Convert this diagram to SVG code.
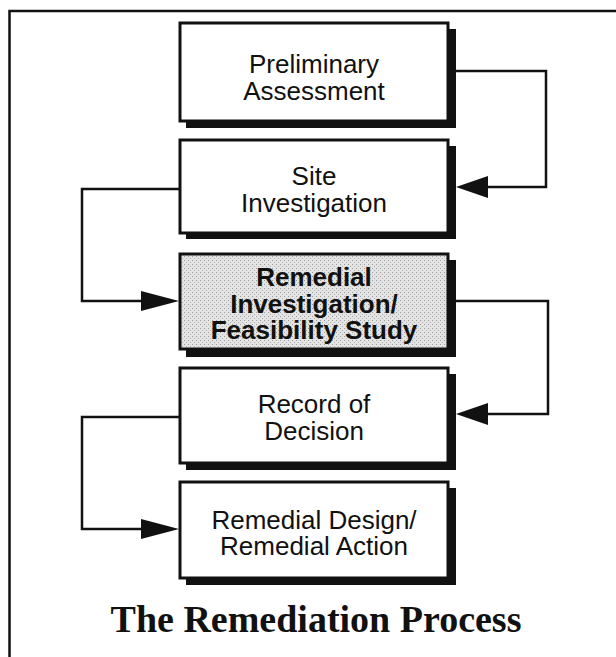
<svg xmlns="http://www.w3.org/2000/svg" width="616" height="657" viewBox="0 0 616 657">
<style>
.box{fill:#fff;stroke:#111;stroke-width:3}
.shadow{fill:#111}
.lbl{font-family:"Liberation Sans",Arial,sans-serif;font-size:26px;fill:#111;text-anchor:middle}
.bold{font-weight:bold}
.conn{fill:none;stroke:#111;stroke-width:2.5}
.head{fill:#111}
.frame{fill:none;stroke:#111;stroke-width:2.5}
.title{font-family:"Liberation Serif","Times New Roman",serif;font-weight:bold;font-size:38px;fill:#111;text-anchor:middle}
</style>
<defs>
<pattern id="stip" width="4" height="4" patternUnits="userSpaceOnUse">
<rect width="4" height="4" fill="#e4e4e4"/>
<rect x="0" y="0" width="1" height="1" fill="#9a9a9a"/>
<rect x="2" y="2" width="1" height="1" fill="#b0b0b0"/>
</pattern>
</defs>
<path class="frame" d="M9.5,657 V11 H616"/>
<g id="n1">
<rect class="shadow" x="186" y="29" width="270" height="99"/>
<rect class="box" x="180" y="23" width="268" height="98"/>
<text class="lbl" x="314" y="73">Preliminary</text>
<text class="lbl" x="314" y="100">Assessment</text>
</g>
<g id="n2">
<rect class="shadow" x="186" y="146" width="270" height="93"/>
<rect class="box" x="180" y="140" width="268" height="93"/>
<text class="lbl" x="314" y="185">Site</text>
<text class="lbl" x="314" y="212">Investigation</text>
</g>
<g id="n3">
<rect class="shadow" x="186" y="260" width="270" height="97"/>
<rect class="box" x="180" y="254" width="268" height="95" style="fill:url(#stip)"/>
<text class="lbl bold" x="314" y="286">Remedial</text>
<text class="lbl bold" x="314" y="313">Investigation/</text>
<text class="lbl bold" x="314" y="339">Feasibility Study</text>
</g>
<g id="n4">
<rect class="shadow" x="186" y="374" width="270" height="96"/>
<rect class="box" x="180" y="368" width="268" height="95"/>
<text class="lbl" x="314" y="413">Record of</text>
<text class="lbl" x="314" y="440">Decision</text>
</g>
<g id="n5">
<rect class="shadow" x="186" y="488" width="270" height="97"/>
<rect class="box" x="180" y="482" width="268" height="96"/>
<text class="lbl" x="314" y="529">Remedial Design/</text>
<text class="lbl" x="314" y="555">Remedial Action</text>
</g>
<g id="connectors">
<path class="conn" d="M456,71 H546 V187 H480"/>
<polygon class="head" points="456,187 488,176 488,198"/>
<path class="conn" d="M180,189 H82 V301 H150"/>
<polygon class="head" points="179,301 141,291 141,311"/>
<path class="conn" d="M456,301 H548 V414 H480"/>
<polygon class="head" points="456,414 488,403 488,425"/>
<path class="conn" d="M180,417 H82 V529 H150"/>
<polygon class="head" points="179,529 141,519 141,539"/>
</g>
<text class="title" x="316" y="632">The Remediation Process</text>
</svg>
